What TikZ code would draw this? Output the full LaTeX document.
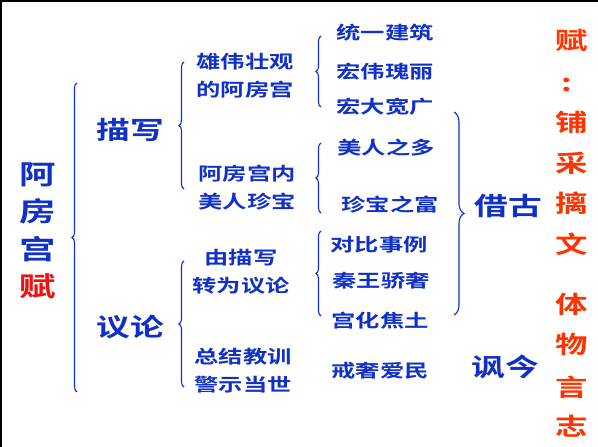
\documentclass[tikz,border=0pt]{standalone}
\usepackage{fontspec}
\newfontfamily\cjk[FakeStretch=1.35,BoldFont={Noto Sans CJK SC Bold}]{Noto Sans CJK SC}
\usepackage{tikz}
\usetikzlibrary{decorations.pathreplacing}
\definecolor{txtblue}{RGB}{16,48,200}
\definecolor{fured}{RGB}{240,16,16}
\definecolor{sidered}{RGB}{255,51,0}

\begin{document}
\begin{tikzpicture}[
  x=1pt, y=-1pt,
  every node/.style={inner sep=0pt, align=center, text=txtblue},
  brc/.style={draw=txtblue, line width=1.1pt, decorate,
              decoration={brace, amplitude=5pt}},
  item/.style={font=\cjk\bfseries\fontsize{18}{28}\selectfont},
  topic/.style={font=\cjk\bfseries\fontsize{25}{30}\selectfont},
  title/.style={font=\cjk\bfseries\fontsize{27}{37.5}\selectfont},
  side/.style={font=\cjk\bfseries\fontsize{24}{30}\selectfont, text=sidered}
]
\useasboundingbox (0,0) rectangle (598,447);
\fill[white] (0,0) rectangle (598,447);
\draw[line width=2pt] (1,447) -- (1,1) -- (598,1);

\node[title] (title) at (38,231) {阿\\房\\宫\\\textcolor{fured}{赋}};

\node[topic] (miaoxie) at (130,130) {描写};
\node[topic] (yilun)   at (130,327) {议论};

\node[item] (efang)  at (245,76)  {雄伟壮观\\的阿房宫};
\node[item] (meiren) at (247,188) {阿房宫内\\美人珍宝};
\node[item] (zhuan)  at (241,272) {由描写\\转为议论};
\node[item] (zongjie) at (243,371) {总结教训\\警示当世};

\node[item] (tongyi)   at (385,33)  {统一建筑};
\node[item] (hongwei)  at (385,72)  {宏伟瑰丽};
\node[item] (hongda)   at (385,107) {宏大宽广};
\node[item] (zhiduo)   at (386,148) {美人之多};
\node[item] (zhifu)    at (390,205) {珍宝之富};
\node[item] (duibi)    at (379,245) {对比事例};
\node[item] (jiaoshe)  at (381,281) {秦王骄奢};
\node[item] (jiaotu)   at (380,321) {宫化焦土};
\node[item] (aimin)    at (380,371) {戒奢爱民};

\node[topic] (jiegu) at (508,206) {借古};
\node[topic] (fengjin) at (505,367) {讽今};

% red column
\foreach \ch/\xx/\yy [count=\i] in {赋/572/40, :/567/85, 铺/572/122, 采/572/163,
    摛/572/203, 文/572/244, 体/572/304, 物/572/344, 言/572/387, 志/572/426}
  \node[side] (side\i) at (\xx,\yy) {\ch};

% braces
\coordinate (b1t) at (77,83);   \coordinate (b1b) at (77,392);
\coordinate (b2t) at (184,62);  \coordinate (b2b) at (184,189);
\coordinate (b3t) at (184,261); \coordinate (b3b) at (184,387);
\coordinate (b4t) at (321,36);  \coordinate (b4b) at (321,107);
\coordinate (b5t) at (321,143); \coordinate (b5b) at (321,213);
\coordinate (b6t) at (454,112); \coordinate (b6b) at (454,315);
\coordinate (b7t) at (321,231); \coordinate (b7b) at (321,316);

\draw[brc] (b1b) -- (b1t);
\draw[brc] (b2b) -- (b2t);
\draw[brc] (b3b) -- (b3t);
\draw[brc] (b4b) -- (b4t);
\draw[brc] (b5b) -- (b5t);
\draw[brc] (b7b) -- (b7t);
\draw[brc, decoration={brace, amplitude=10pt}] (b6t) -- (b6b);
\end{tikzpicture}
\end{document}
